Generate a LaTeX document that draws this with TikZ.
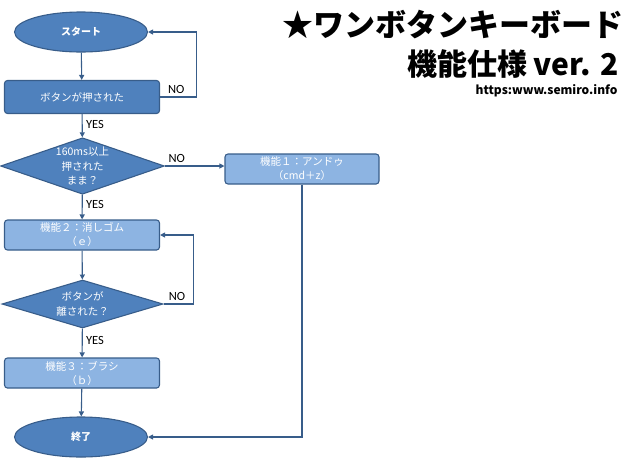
\documentclass[tikz,border=0pt]{standalone}
\usepackage{fontspec}
\setmainfont{Carlito}
\newfontfamily\jp{Noto Sans CJK JP}
\usetikzlibrary{arrows.meta, shapes.geometric}
\definecolor{darkfill}{RGB}{79,129,189}
\definecolor{lightfill}{RGB}{141,180,226}
\definecolor{edgeblue}{RGB}{56,93,138}
\tikzset{%
	terminal/.style={
		ellipse,
		draw=edgeblue,
		fill=darkfill,
		line width=1.1pt,
		inner sep=0pt,
		minimum width=133pt,
		minimum height=40pt,
		text=white,
		font=\jp\bfseries\fontsize{10}{12}\selectfont
	},
	process/.style={
		rectangle,
		rounded corners=3pt,
		draw=edgeblue,
		fill=#1,
		line width=1.1pt,
		inner sep=0pt,
		minimum width=155pt,
		minimum height=30pt,
		align=center,
		text=white,
		font=\jp\fontsize{10.5}{14}\selectfont
	},
	decision/.style={
		diamond,
		aspect=2.9,
		draw=edgeblue,
		fill=darkfill,
		line width=1.1pt,
		inner sep=0pt,
		minimum width=161pt,
		align=center,
		text=white,
		font=\jp\fontsize{10.5}{14.5}\selectfont
	},
	flow/.style={
		draw=edgeblue,
		line width=1.1pt,
		-{Triangle[length=5pt,width=5pt]}
	},
	answer/.style={
		text=black,
		font=\fontsize{12.5}{14}\selectfont
	},
}
\begin{document}
\begin{tikzpicture}[x=1pt,y=-1pt]
	\useasboundingbox (0,0) rectangle (640,459);
	
	% Flow chart nodes
	\node[terminal] (start) at (81,32) {スタート};
	\node[process=darkfill, minimum height=33pt] (pressed) at (82,97) {ボタンが押された};
	\node[decision, minimum height=56pt] (hold) at (82.5,166) {160ms以上\\押された\\まま？};
	\node[process=lightfill, minimum width=154pt] (undo) at (302,169) {機能１：アンドゥ\\（cmd＋z）};
	\node[process=lightfill] (erase) at (82,235) {機能２：消しゴム\\（ｅ）};
	\node[decision, minimum height=48pt] (released) at (82.5,304) {ボタンが\\離された？};
	\node[process=lightfill] (brush) at (82,373) {機能３：ブラシ\\（ｂ）};
	\node[terminal] (stop) at (81,437) {終了};
	
	% Connectors
	\draw[flow] (start) -- (pressed);
	\draw[flow] (pressed.east) -- node[answer, above, pos=0.45] {NO} ++(36,0) |- (start.east);
	\draw[flow] (pressed) -- node[answer, right, pos=0.45] {YES} (hold);
	\draw[flow] (hold.east) -- node[answer, above, pos=0.2] {NO} (hold.east -| undo.west);
	\draw[flow] (hold) -- node[answer, right, pos=0.4] {YES} (erase);
	\draw[flow] (undo.south) |- (stop.east);
	\draw[flow] (erase) -- (released);
	\draw[flow] (released.east) -- node[answer, above, pos=0.45] {NO} ++(30,0) |- (erase.east);
	\draw[flow] (released) -- node[answer, right, pos=0.4] {YES} (brush);
	\draw[flow] (brush) -- (stop);
	
	% Title
	\node[anchor=east, font=\jp\bfseries\fontsize{31}{31}\selectfont] (title) at (627,25) {★ワンボタンキーボード};
	\node[anchor=east, font=\jp\bfseries\fontsize{30}{30}\selectfont] (spec) at (622,64) {機能仕様 ver. 2};
	\node[anchor=east, font=\jp\bfseries\fontsize{12}{12}\selectfont] (url) at (621,91) {https:www.semiro.info};
\end{tikzpicture}
\end{document}
